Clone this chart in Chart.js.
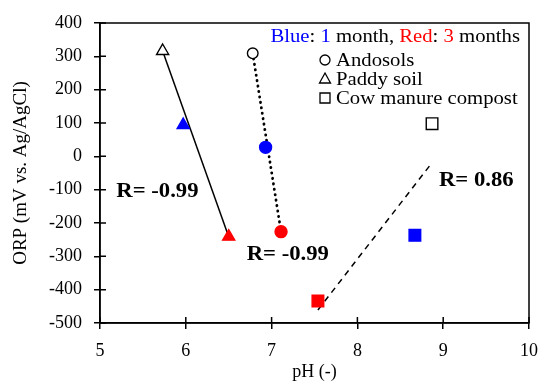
<!DOCTYPE html>
<html>
<head>
<meta charset="utf-8">
<script src="https://cdn.jsdelivr.net/npm/chart.js@4/dist/chart.umd.min.js"></script>
<style>
  html, body { margin: 0; padding: 0; background: #fff; }
  #wrap { width: 542px; height: 383px; }
</style>
</head>
<body>
<div id="wrap"><canvas id="chart" width="542" height="383"></canvas></div>
<script>
// measured points: order = initial, 1 month (blue), 3 months (red)
const andosolsPH = [6.78, 6.93, 7.11];
const andosolsORP = [309, 27, -226];
const paddyPH = [5.73, 5.97, 6.50];
const paddyORP = [316, 94, -241];
const cowPH = [8.87, 8.67, 7.54];
const cowORP = [98, -237, -434];

// regression line end points
const andosolsFitPH = [6.78, 7.11];
const andosolsFitORP = [309, -226];
const paddyFitPH = [5.73, 6.50];
const paddyFitORP = [316, -241];
const cowFitPH = [7.54, 8.87];
const cowFitORP = [-461, -19];

const xTicks = [5, 6, 7, 8, 9, 10];
const yTicks = [-500, -400, -300, -200, -100, 0, 100, 200, 300, 400];

const fillColors = ["#ffffff", "#0000ff", "#ff0000"];
const edgeColors = ["#000000", "#0000ff", "#ff0000"];
const serif = "'Liberation Serif', 'Times New Roman', serif";

function toPoints(xs, ys) {
    return xs.map((x, i) => ({ x: x, y: ys[i] }));
}

// draw text a little wider, like the original figure
function wideText(ctx, text, x, y, sx) {
    ctx.save();
    ctx.translate(x, y);
    ctx.scale(sx, 1);
    ctx.fillText(text, 0, 0);
    ctx.restore();
}

const extras = {
    id: "extras",
    afterDraw(chart) {
        const ctx = chart.ctx;
        const area = chart.chartArea;
        const xs = chart.scales.x;
        const ys = chart.scales.y;

        // box around plot
        ctx.save();
        ctx.strokeStyle = "#000";
        ctx.lineWidth = 1.5;
        ctx.strokeRect(area.left, area.top, area.right - area.left, area.bottom - area.top);

        // inner half of the crossing ticks
        ctx.beginPath();
        xTicks.forEach(v => {
            const px = xs.getPixelForValue(v);
            ctx.moveTo(px, area.bottom);
            ctx.lineTo(px, area.bottom - 6);
        });
        yTicks.forEach(v => {
            const py = ys.getPixelForValue(v);
            ctx.moveTo(area.left, py);
            ctx.lineTo(area.left + 6, py);
        });
        ctx.stroke();

        // correlation labels
        ctx.fillStyle = "#000";
        ctx.textBaseline = "alphabetic";
        ctx.textAlign = "left";
        ctx.font = "bold 21px " + serif;
        wideText(ctx, "R= -0.99", xs.getPixelForValue(5.19), ys.getPixelForValue(-122), 1.08);
        wideText(ctx, "R= -0.99", xs.getPixelForValue(6.71), ys.getPixelForValue(-311), 1.08);
        wideText(ctx, "R= 0.86", xs.getPixelForValue(8.95), ys.getPixelForValue(-89), 1.08);

        // colour note
        ctx.font = "18px " + serif;
        const parts = [
            ["Blue", "#0000ff"], [": ", "#000"], ["1", "#0000ff"], [" month, ", "#000"],
            ["Red", "#ff0000"], [": ", "#000"], ["3", "#ff0000"], [" months", "#000"]
        ];
        const sx = 1.15;
        let total = 0;
        parts.forEach(p => { total += ctx.measureText(p[0]).width * sx; });
        let cx = 520 - total;
        parts.forEach(p => {
            ctx.fillStyle = p[1];
            wideText(ctx, p[0], cx, 42, sx);
            cx += ctx.measureText(p[0]).width * sx;
        });

        // legend
        const names = ["Andosols", "Paddy soil", "Cow manure compost"];
        const rows = [66, 85, 104];
        ctx.fillStyle = "#000";
        ctx.strokeStyle = "#000";
        ctx.lineWidth = 1.3;
        names.forEach((name, i) => {
            const my = rows[i] - 6;
            const mx = 325;
            ctx.beginPath();
            if (i === 0) {
                ctx.arc(mx, my, 5, 0, Math.PI * 2);
            } else if (i === 1) {
                ctx.moveTo(mx, my - 6);
                ctx.lineTo(mx + 5.5, my + 4);
                ctx.lineTo(mx - 5.5, my + 4);
                ctx.closePath();
            } else {
                ctx.rect(mx - 5, my - 5, 10, 10);
            }
            ctx.stroke();
            wideText(ctx, name, 336, rows[i], sx);
        });
        ctx.restore();
    }
};

const ctx = document.getElementById("chart").getContext("2d");

const chart = new Chart(ctx, {
    type: "scatter",
    data: {
        datasets: [
            {
                label: "Andosols",
                data: toPoints(andosolsPH, andosolsORP),
                pointStyle: "circle",
                pointRadius: [5.3, 6, 6],
                pointBackgroundColor: fillColors,
                pointBorderColor: edgeColors,
                pointBorderWidth: 1.4
            },
            {
                label: "Paddy soil",
                data: toPoints(paddyPH, paddyORP),
                pointStyle: "triangle",
                pointRadius: 7,
                pointBackgroundColor: fillColors,
                pointBorderColor: edgeColors,
                pointBorderWidth: 1.4
            },
            {
                label: "Cow manure compost",
                data: toPoints(cowPH, cowORP),
                pointStyle: "rect",
                pointRadius: 8.2,
                pointBackgroundColor: fillColors,
                pointBorderColor: edgeColors,
                pointBorderWidth: 1.4
            },
            {
                type: "line",
                data: toPoints(paddyFitPH, paddyFitORP),
                borderColor: "#000",
                borderWidth: 1.5,
                pointRadius: 0,
                fill: false
            },
            {
                type: "line",
                data: toPoints(andosolsFitPH, andosolsFitORP),
                borderColor: "#000",
                borderWidth: 2.8,
                borderDash: [0.3, 5.2],
                borderCapStyle: "round",
                pointRadius: 0,
                fill: false
            },
            {
                type: "line",
                data: toPoints(cowFitPH, cowFitORP),
                borderColor: "#000",
                borderWidth: 1.5,
                borderDash: [6, 5],
                pointRadius: 0,
                fill: false
            }
        ]
    },
    options: {
        responsive: false,
        animation: false,
        layout: { padding: { top: 23, right: 13, left: 0, bottom: 0 } },
        plugins: {
            legend: { display: false },
            tooltip: { enabled: false }
        },
        scales: {
            x: {
                type: "linear",
                min: 5,
                max: 10,
                afterBuildTicks: axis => { axis.ticks = xTicks.map(v => ({ value: v })); },
                afterFit: axis => {
                    axis.height = 60;
                    axis.paddingLeft = 0;
                    axis.paddingRight = 0;
                },
                ticks: {
                    color: "#000",
                    font: { family: serif, size: 18 },
                    padding: 11
                },
                grid: { drawOnChartArea: false, drawTicks: true, tickLength: 6, color: "#000", lineWidth: 1.5 },
                border: { color: "#000", width: 1.5 },
                title: {
                    display: true,
                    text: "pH (-)",
                    color: "#000",
                    font: { family: serif, size: 18 },
                    padding: { top: 0, bottom: 0 }
                }
            },
            y: {
                type: "linear",
                min: -500,
                max: 400,
                afterBuildTicks: axis => { axis.ticks = yTicks.map(v => ({ value: v })); },
                afterFit: axis => {
                    axis.width = 100;
                    axis.paddingTop = 0;
                    axis.paddingBottom = 0;
                },
                ticks: {
                    color: "#000",
                    font: { family: serif, size: 18 },
                    padding: 12
                },
                grid: { drawOnChartArea: false, drawTicks: true, tickLength: 6, color: "#000", lineWidth: 1.5 },
                border: { color: "#000", width: 1.5 },
                title: {
                    display: true,
                    text: "ORP (mV vs. Ag/AgCl)",
                    color: "#000",
                    font: { family: serif, size: 19 },
                    padding: { top: 10, bottom: 0 }
                }
            }
        }
    },
    plugins: [extras]
});
</script>
</body>
</html>
